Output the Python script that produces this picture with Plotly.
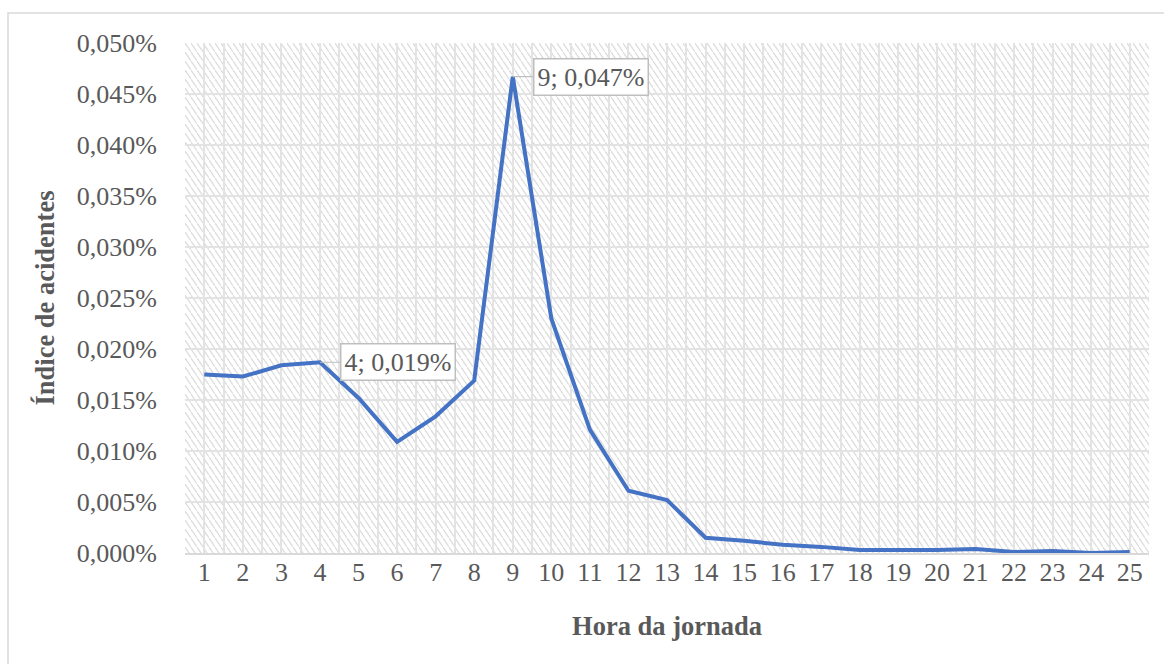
import base64
import plotly.graph_objects as go

hours = list(range(1, 26))
indice = [0.0175, 0.0173, 0.0184, 0.0187, 0.0152, 0.0109, 0.0134, 0.0169, 0.0467,
          0.0230, 0.0121, 0.0061, 0.0052, 0.0015, 0.0012, 0.0008, 0.0006, 0.0003,
          0.0003, 0.0003, 0.0004, 0.0001, 0.0002, 0.0000, 0.0001]
y_ticks = [0.000, 0.005, 0.010, 0.015, 0.020, 0.025, 0.030, 0.035, 0.040, 0.045, 0.050]
y_ticktext = ["0,000%", "0,005%", "0,010%", "0,015%", "0,020%", "0,025%", "0,030%",
              "0,035%", "0,040%", "0,045%", "0,050%"]
labels = [(9, 0.0467, "9; 0,047%"), (4, 0.0187, "4; 0,019%")]

FONT = "Liberation Serif, Times New Roman, serif"
GREY = "#595959"
W, H = 1164, 664
L, R, T, B = 185, 15, 43, 111
PW, PH = W - L - R, H - T - B

# diagonal hatch texture for the plot background
svg = (f'<svg xmlns="http://www.w3.org/2000/svg" width="{PW}" height="{PH}">'
       '<defs><pattern id="p" width="6" height="9" patternUnits="userSpaceOnUse">'
       '<line x1="-3" y1="-4.5" x2="9" y2="13.5" stroke="#dedede" stroke-width="1.3"/>'
       '</pattern></defs>'
       f'<rect width="{PW}" height="{PH}" fill="url(#p)"/></svg>')
img_src = "data:image/svg+xml;base64," + base64.b64encode(svg.encode()).decode()

fig = go.Figure()
fig.add_trace(go.Scatter(
    x=hours, y=indice, mode="lines", line=dict(color="#4472C4", width=4),
    showlegend=False, hoverinfo="skip"))

annotations = []
for xv, yv, txt in labels:
    annotations.append(dict(
        x=xv, y=yv, xref="x", yref="y", text=txt, showarrow=True, arrowhead=0,
        arrowcolor="#bfbfbf", arrowwidth=1.2, ax=78, ay=0, standoff=0,
        bgcolor="white", bordercolor="#bfbfbf", borderwidth=1.5, borderpad=3,
        font=dict(family=FONT, size=26, color=GREY)))

fig.update_layout(
    width=W, height=H,
    margin=dict(l=L, r=R, t=T, b=B),
    paper_bgcolor="white", plot_bgcolor="rgba(0,0,0,0)",
    font=dict(family=FONT, size=26, color=GREY),
    annotations=annotations,
    hovermode=False,
    images=[dict(source=img_src, xref="paper", yref="paper", x=0, y=1,
                 sizex=1, sizey=1, sizing="stretch", xanchor="left", yanchor="top",
                 layer="below")],
    xaxis=dict(range=[0.5, 25.5], tickmode="array", tickvals=hours,
               ticktext=[str(h) for h in hours], showgrid=True, gridcolor="#e3e3e3",
               gridwidth=1.5, ticks="", zeroline=False, ticklabelstandoff=-5,
               showline=True, linecolor="#d9d9d9", linewidth=2,
               minor=dict(tickmode="array", tickvals=[h + 0.5 for h in range(0, 26)],
                          showgrid=True, gridcolor="#e3e3e3", gridwidth=1.5, ticks=""),
               tickfont=dict(family=FONT, size=26, color=GREY),
               title=dict(text="<b>Hora da jornada</b>", standoff=30,
                          font=dict(family=FONT, size=26.5, color=GREY))),
    yaxis=dict(range=[0, 0.05], tickmode="array", tickvals=y_ticks, ticktext=y_ticktext,
               showgrid=True, gridcolor="#e3e3e3", gridwidth=1.5, zeroline=False,
               ticks="outside", ticklen=22, tickcolor="rgba(0,0,0,0)",
               tickfont=dict(family=FONT, size=26, color=GREY),
               title=dict(text="<b>Índice de acidentes</b>", standoff=14,
                          font=dict(family=FONT, size=26.5, color=GREY))),
    shapes=[dict(type="rect", xref="paper", yref="paper",
                 x0=(8 - L) / PW, x1=(1200 - L) / PW,
                 y0=(T + PH - 700) / PH, y1=(T + PH - 13) / PH,
                 line=dict(color="#d9d9d9", width=1.5), layer="below")],
)

fig.write_html("out.html", config={"displayModeBar": False},
               post_script="document.body.style.margin='0';")
